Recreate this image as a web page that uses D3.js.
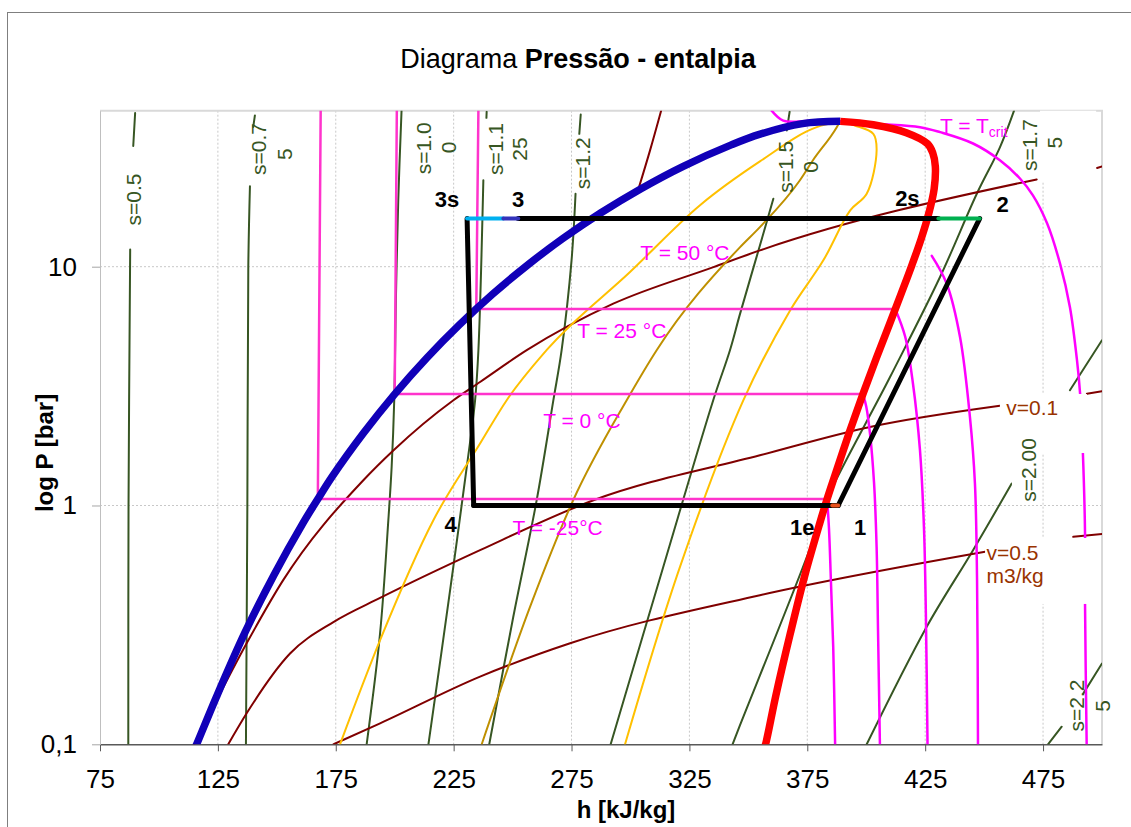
<!doctype html>
<html>
<head>
<meta charset="utf-8">
<script src="https://d3js.org/d3.v7.min.js"></script>
<style>
  body { margin: 0; background: #fff; }
  svg { font-family: "Liberation Sans", Arial, sans-serif; }
</style>
</head>
<body>
<div id="chart"></div>
<script>
// R134a pressure-enthalpy chart, points as [h kJ/kg, P bar]
var xTicks = [75, 125, 175, 225, 275, 325, 375, 425, 475];
var yTicks = [0.1, 1, 10];
var yTickLabels = ["0,1", "1", "10"];

var satLiquid = [[115,0.095],[116,0.1],[124.5,0.159],[136.5,0.294],[148.8,0.512],[161.1,0.844],[167.4,1.064],[173.6,1.327],[186.7,2.006],[200,2.928],[213.6,4.146],[227.5,5.717],[241.7,7.702],[256.4,10.17],[271.6,13.18],[287.5,16.82],[304.3,21.17],[322.4,26.33],[343,32.44],[355,35.9],[373,39.72],[389,40.6]];
var satVapor = [[356.5,0.095],[357.3,0.1],[361.6,0.159],[367.9,0.294],[374.0,0.512],[380.3,0.844],[383.4,1.064],[386.6,1.327],[392.7,2.006],[398.6,2.928],[404.3,4.146],[409.8,5.717],[414.8,7.702],[419.4,10.17],[423.4,13.18],[426.6,16.82],[428.8,21.17],[429.3,26.33],[428.2,30],[426,32.7],[417,36.4],[403,39.3],[389,40.6]];

// isentropes (null = gap left for the label)
var s050 = [[89.9,44],[89.1,32],null,[87.8,11.8],[87.1,1],[87.0,0.1]];
var s075 = [[140.7,43],[140.0,38.5],null,[138.6,21.7],[137.9,10],[137.5,1],[136.9,0.1]];
var s100 = [[202.9,45],[201.5,18.9],[200.5,7.23],[199.8,2.76],[198.7,1.45],[197.3,0.868],[193.8,0.292],[188.1,0.1]];
var s1125 = [[239.0,44.5],[238.9,42],null,[237.6,23],[235.5,4.47],[234.1,2.76],[231.9,1.82],[223.5,0.442],[214.3,0.1]];
var s120 = [[278.9,43.4],[278.3,36],null,[276.7,20.2],[275.0,10.6],[270.8,4.47],[267.3,2.76],[260.2,1.05],[250.3,0.342],[240.1,0.1]];
var s150 = [[367.5,44.5],[366.3,37.2],null,[360.6,19.25],[354.9,12.27],[346.5,6.36],[342.2,4.47],[335.1,2.76],[313.9,0.553],[291.6,0.1]];
var s175 = [[462.7,45],[456.7,31.6],[446.9,20.2],[431.3,9.05],[410.1,3.45],[381.8,0.987],[379.0,0.788],[346.5,0.1205],[343.3,0.1]];
var s200 = [[400.2,0.1],[425.6,0.31],[445.3,0.65],[461.7,1.236],null,[486.4,3.04],[500,4.92]];
var s225 = [[477.1,0.1],[482.9,0.1185],null,[492.1,0.1634],[500,0.218]];

// isochores
var vTop = [[313,45],[308.3,30.7],[303.6,21.5]];
var v001 = [[115,0.1],[137.2,0.265],[152.7,0.487],[186.7,1.276],[199.4,1.70],[224.9,2.76],[236.2,3.29],[256.0,4.47],[292.7,7.0],[335.2,9.96],[354.9,11.7],[472.3,23.2],null,[497.9,25.9],[500,26.3]];
var v01 = [[129.4,0.1],[137.2,0.1348],[155.6,0.240],[174,0.325],[193.8,0.41],[236.2,0.650],[284.3,1.052],[354.9,1.623],[401.6,2.133],[456.7,2.616],null,[493.6,2.94],[500,3.008]];
var v05 = [[174,0.1],[193.8,0.1224],[236.2,0.192],[274.4,0.265],[354.9,0.421],[450.4,0.640],null,[487.8,0.739],[500,0.759]];

// constant quality
var x025 = [[176.8,0.1],[193.8,0.273],[216.4,0.868],[236.2,1.817],[247.5,2.76],[264.4,4.47],[299.8,9.5],[329.5,18.1],[354.9,27.6],[379.0,38.4],[388.9,40.6]];
var x050 = [[236.9,0.1],[257.4,0.376],[275.7,1.052],[298.4,2.76],[311.1,4.47],[346.5,12.08],[354.9,14.65],[371.8,22.96],[377.4,27.9],[387.5,38.4],[388.9,40.6]];
var x075 = [[297.7,0.1],[321.0,0.553],[347.9,2.76],[367.7,6.56],[381.8,10.63],[393.2,17.2],[400.2,20.2],[404.4,30.7],[403.0,36.0],[395.2,39.0],[388.9,40.6]];

// isotherms
var tM25liq = [[168.6,45],[167.4,1.064],[383.4,1.064]];
var tM25vap = [[383.4,1.064],[384.2,0.8],[385.0,0.49],[386.0,0.255],[386.8,0.1]];
var t0liq = [[200.9,45],[200.0,2.928],[398.6,2.928]];
var t0vap = [[398.6,2.928],[400,2.6],[401.6,2.0],[403.3,1.25],[404.4,0.67],[405,0.3],[405.8,0.1]];
var t25liq = [[235.5,45],[234.6,6.654],[412.3,6.654]];
var t25vap = [[412.3,6.654],[416.5,5.1],[419.8,3.25],[422.8,1.7],[424.5,0.8],[425.3,0.35],[426,0.1]];
var t50vap = [[427.8,11.1],[434.1,8.5],[439.8,5.06],[444,2.34],[446.1,1.24],[447,0.49],[447.4,0.1]];
var tCrit = [[359.9,45],[364.8,40.9],[375,40.7],[389,40.6],[405,39.6],[422.8,38.4],[431.3,36.6],[445.3,32.8],[456.7,27.9],[465.2,23.4],[470.7,19.9],[476.7,15.2],[482.2,10.3],[486.4,6.76],[489.4,4.05],[490.7,2.95],[491.9,1.65],[492.8,0.766],[492.8,0.39],[493.5,0.1]];

// refrigeration cycle
var p3s = [230.7, 15.9], p3m = [246.1, 15.9], p3 = [252.4, 15.9];
var p2s = [430.6, 15.9], p2 = [448.1, 15.9];
var p4 = [233.5, 1.0], p1e = [385.6, 1.0], p1 = [388.1, 1.0];

var W = 1131, H = 827;
var L = 100, R = 1102, T = 110.7, B = 744.3;
var font = "'Liberation Sans', Arial, sans-serif";

var svg = d3.select("#chart").append("svg").attr("width", W).attr("height", H);

svg.append("rect").attr("x", 7.5).attr("y", 12.5).attr("width", 1300).attr("height", 1000)
  .attr("fill", "none").attr("stroke", "#7f7f7f");

var x = d3.scaleLinear().domain([75, 500]).range([L, R]);
var y = d3.scaleLog().domain([0.1, 45]).range([B, T]);

// gridlines
svg.append("g").selectAll("line").data(xTicks.slice(1)).enter().append("line")
  .attr("x1", d => x(d)).attr("x2", d => x(d)).attr("y1", T).attr("y2", B)
  .attr("stroke", "#c8c8c8").attr("stroke-dasharray", "2,2");
svg.append("g").selectAll("line").data(yTicks.slice(1)).enter().append("line")
  .attr("x1", L).attr("x2", R).attr("y1", d => y(d)).attr("y2", d => y(d))
  .attr("stroke", "#c8c8c8").attr("stroke-dasharray", "2,2");
svg.append("path").attr("d", "M" + L + "," + T + "H" + R + "V" + B)
  .attr("fill", "none").attr("stroke", "#d9d9d9").attr("stroke-width", 2);

// axes
var gx = svg.append("g").attr("transform", "translate(0," + B + ")")
  .call(d3.axisBottom(x).tickValues(xTicks).tickFormat(d3.format("d")).tickSize(7).tickSizeOuter(0).tickPadding(18))
  .attr("font-size", 26).attr("font-family", font);
gx.select(".domain").attr("stroke", "#595959").attr("stroke-width", 1.5);
gx.selectAll(".tick line").attr("stroke", "#595959");
gx.selectAll("text").attr("fill", "#000");

var gy = svg.append("g").attr("transform", "translate(" + L + ",0)")
  .call(d3.axisLeft(y).tickValues(yTicks).tickFormat((d, i) => yTickLabels[i]).tickSize(8).tickSizeOuter(0).tickPadding(15))
  .attr("font-size", 26).attr("font-family", font);
gy.select(".domain").attr("stroke", "#bfbfbf");
gy.selectAll(".tick line").attr("stroke", "#a6a6a6");
gy.selectAll("text").attr("fill", "#000");

svg.append("clipPath").attr("id", "plot").append("rect")
  .attr("x", L).attr("y", T).attr("width", R - L).attr("height", B - T);
var plot = svg.append("g").attr("clip-path", "url(#plot)");

var smooth = d3.line().defined(d => d !== null).x(d => x(d[0])).y(d => y(d[1])).curve(d3.curveCatmullRom.alpha(0.5));
var monoX = d3.line().defined(d => d !== null).x(d => x(d[0])).y(d => y(d[1])).curve(d3.curveMonotoneX);
var straight = d3.line().defined(d => d !== null).x(d => x(d[0])).y(d => y(d[1]));

function draw(data, color, width, gen) {
  return plot.append("path").attr("d", (gen || smooth)(data)).attr("fill", "none")
    .attr("stroke", color).attr("stroke-width", width)
    .attr("stroke-linejoin", "round").attr("stroke-linecap", "round");
}

var green = "#375623";
[s050, s075, s100, s1125, s120, s150, s175, s200, s225].forEach(d => draw(d, green, 2));
[vTop, v001, v01, v05].forEach(d => draw(d, "#800000", 2, d === vTop ? smooth : monoX));
draw(x025, "#ffc000", 2, monoX);
draw(x050, "#bf9000", 2, monoX);
draw(x075, "#ffc000", 2);
[tM25liq, t0liq, t25liq].forEach(d => draw(d, "#ff33cc", 2.5, straight));
[tM25vap, t0vap, t25vap, t50vap, tCrit].forEach(d => draw(d, "#ff00ff", 2.5));

draw(satLiquid, "#1100b8", 7.5).attr("stroke-linecap", "butt");
draw(satVapor, "#ff0000", 7.5).attr("stroke-linecap", "butt");

// cycle
draw([p3s, p4], "#000", 5, straight);
draw([p4, p1], "#000", 5, straight);
draw([p1, p2], "#000", 5, straight);
draw([p3, p2s], "#000", 5, straight);
draw([p3s, p3m], "#00b0f0", 4, straight);
draw([p3m, p3], "#3333bb", 4, straight);
draw([p2s, p2], "#00b050", 4, straight);
draw([p1e, p1], "#e8501a", 4, straight);

// white boxes behind some data labels
var boxes = [
  {h0: 473.7, h1: 497.5, p0: 22.85, p1: 45},
  {h0: 456.7, h1: 493.6, p0: 1.659, p1: 2.93},
  {h0: 461.8, h1: 473.7, p0: 1.005, p1: 2.012},
  {h0: 450.4, h1: 494.1, p0: 0.387, p1: 0.731}
];
svg.append("g").selectAll("rect").data(boxes).enter().append("rect")
  .attr("x", d => x(d.h0)).attr("width", d => x(d.h1) - x(d.h0))
  .attr("y", d => y(d.p1)).attr("height", d => y(d.p0) - y(d.p1))
  .attr("fill", "#fff");

// entropy labels (rotated)
var sLabels = [
  ["s=0.5", 92.2, 19.1], ["s=0.7", 145.6, 31.1], ["5", 156.3, 29.6],
  ["s=1.0", 215.6, 31.3], ["0", 226.1, 31.6], ["s=1.1", 246.1, 31.1], ["25", 256.1, 31.1],
  ["s=1.2", 283.0, 27.1], ["s=1.5", 369.1, 26.2], ["0", 379.5, 26.2],
  ["s=1.7", 472.4, 32.3], ["5", 483.0, 33.1], ["s=2.00", 471.8, 1.408],
  ["s=2.2", 492.2, 0.1452], ["5", 503.4, 0.1448]
];
svg.append("g").selectAll("text").data(sLabels).enter().append("text")
  .attr("transform", d => "translate(" + x(d[1]) + "," + y(d[2]) + ") rotate(-90)")
  .attr("text-anchor", "middle").attr("font-size", 21).attr("fill", green)
  .text(d => d[0]);

// isotherm labels
var tLabels = [
  ["T = 50 °C", 323.1, 10.67], ["T = 25 °C", 296.3, 5.03],
  ["T = 0 °C", 279.4, 2.11], ["T = -25°C", 269.1, 0.752]
];
svg.append("g").selectAll("text").data(tLabels).enter().append("text")
  .attr("x", d => x(d[1])).attr("y", d => y(d[2]))
  .attr("text-anchor", "middle").attr("font-size", 21).attr("fill", "#ff00ff")
  .text(d => d[0]);
var tc = svg.append("text").attr("x", x(431.3)).attr("y", y(36.2))
  .attr("font-size", 21).attr("fill", "#ff00ff");
tc.append("tspan").text("T = T");
tc.append("tspan").attr("font-size", 14).attr("dy", 4).text("crit");

// isochore labels
var vLabels = [["v=0.1", 459.4, 2.393], ["v=0.5", 451.0, 0.591], ["m3/kg", 451.0, 0.472]];
svg.append("g").selectAll("text").data(vLabels).enter().append("text")
  .attr("x", d => x(d[1])).attr("y", d => y(d[2]))
  .attr("font-size", 21).attr("fill", "#993300")
  .text(d => d[0]);

// cycle point labels
var pLabels = [
  ["3s", p3s, -20, -12], ["3", p3, 0, -12], ["2s", p2s, -31, -13], ["2", p2, 23, -7],
  ["1e", p1, -36, 30], ["1", p1, 22, 30], ["4", p4, -23, 27]
];
svg.append("g").selectAll("text").data(pLabels).enter().append("text")
  .attr("x", d => x(d[1][0]) + d[2]).attr("y", d => y(d[1][1]) + d[3])
  .attr("text-anchor", "middle").attr("font-size", 22).attr("font-weight", "bold")
  .text(d => d[0]);

// titles
var title = svg.append("text").attr("x", 578).attr("y", 68).attr("text-anchor", "middle")
  .attr("font-size", 27);
title.append("tspan").text("Diagrama ");
title.append("tspan").attr("font-weight", "bold").text("Pressão - entalpia");

svg.append("text").attr("transform", "translate(53,453) rotate(-90)")
  .attr("text-anchor", "middle").attr("font-size", 24).attr("font-weight", "bold")
  .text("log P [bar]");
svg.append("text").attr("x", 626).attr("y", 818)
  .attr("text-anchor", "middle").attr("font-size", 24).attr("font-weight", "bold")
  .text("h [kJ/kg]");
</script>
</body>
</html>
